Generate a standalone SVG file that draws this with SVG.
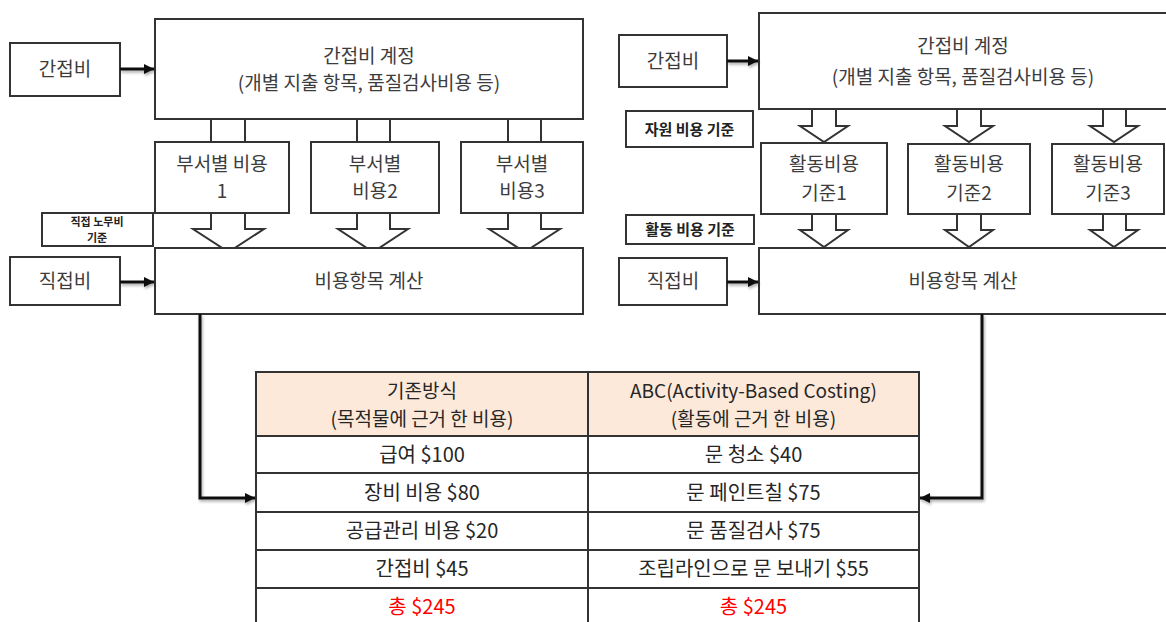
<svg xmlns="http://www.w3.org/2000/svg" width="1166" height="622" viewBox="0 0 1166 622">
<defs>
<marker id="ah" markerUnits="userSpaceOnUse" markerWidth="12" markerHeight="12" refX="10" refY="6" orient="auto">
<path d="M0,1 L10,6 L0,11 Z" fill="#111"/>
</marker>
<filter id="sh" x="-20%" y="-20%" width="140%" height="140%">
<feGaussianBlur in="SourceAlpha" stdDeviation="1.5"/>
<feOffset dx="1" dy="2"/>
<feComponentTransfer><feFuncA type="linear" slope="0.35"/></feComponentTransfer>
<feMerge><feMergeNode/><feMergeNode in="SourceGraphic"/></feMerge>
</filter>
</defs>
<style>
.box{fill:#fff;stroke:#333;stroke-width:2}
.bt{font-family:"Noto Sans CJK KR","Noto Sans",sans-serif;font-size:19px;fill:#3c3c3c;text-anchor:middle}
.lbl{font-family:"Noto Sans CJK KR","Noto Sans",sans-serif;font-size:15px;font-weight:bold;fill:#222;text-anchor:middle}
.blk{fill:#fff;stroke:#333;stroke-width:2;stroke-linejoin:miter}
.con{fill:none;stroke:#111;stroke-width:3}
.tc{fill:#fff;stroke:#333;stroke-width:2}
.th{fill:#fde9d9;stroke:#333;stroke-width:2}
.tt{font-family:"Noto Sans CJK KR","Noto Sans",sans-serif;font-size:20px;fill:#262626;text-anchor:middle}
.red{fill:#ff0000}
</style>

<!-- LEFT PANEL -->
<g id="left-pipes">
<rect class="blk" x="211" y="118" width="34" height="25"/>
<rect class="blk" x="357" y="118" width="33" height="25"/>
<rect class="blk" x="508" y="118" width="33" height="25"/>
</g>
<g id="left-arrows">
<polygon class="blk" points="211,212 245,212 245,229 264,229 228.5,252 193,229 211,229"/>
<polygon class="blk" points="357,212 390,212 390,229 408,229 373,252 338,229 357,229"/>
<polygon class="blk" points="508,212 541,212 541,229 560,229 524.5,252 489,229 508,229"/>
</g>
<g id="left-indirect">
<rect class="box" x="10" y="43" width="110" height="53"/>
<text class="bt" x="65" y="76">간접비</text>
</g>
<g id="left-account">
<rect class="box" x="155" y="19" width="428" height="100"/>
<text class="bt" x="369" y="63">간접비 계정</text>
<text class="bt" x="369" y="90">(개별 지출 항목, 품질검사비용 등)</text>
</g>
<g id="dept1">
<rect class="box" x="155" y="142" width="134" height="71"/>
<text class="bt" x="222" y="171">부서별 비용</text>
<text class="bt" x="222" y="198">1</text>
</g>
<g id="dept2">
<rect class="box" x="311" y="142" width="128" height="71"/>
<text class="bt" x="375" y="171">부서별</text>
<text class="bt" x="375" y="198">비용2</text>
</g>
<g id="dept3">
<rect class="box" x="461" y="142" width="122" height="71"/>
<text class="bt" x="522" y="171">부서별</text>
<text class="bt" x="522" y="198">비용3</text>
</g>
<g id="left-labor-basis">
<rect class="box" x="42" y="213" width="111" height="33"/>
<text class="lbl" x="97" y="226" style="font-size:11px">직접 노무비</text>
<text class="lbl" x="97" y="242" style="font-size:11px">기준</text>
</g>
<g id="left-calc">
<rect class="box" x="155" y="248" width="428" height="66"/>
<text class="bt" x="369" y="288">비용항목 계산</text>
</g>
<g id="left-direct">
<rect class="box" x="10" y="257" width="110" height="48"/>
<text class="bt" x="65" y="288">직접비</text>
</g>

<!-- RIGHT PANEL -->
<g id="right-arrows">
<polygon class="blk" points="812,108 836,108 836,126 848,126 824,142 800,126 812,126"/>
<polygon class="blk" points="957,108 981,108 981,126 993,126 969,142 945,126 957,126"/>
<polygon class="blk" points="1103,108 1126,108 1126,126 1138,126 1114,142 1090,126 1103,126"/>
<polygon class="blk" points="812,213 836,213 836,230 848,230 824,247 800,230 812,230"/>
<polygon class="blk" points="957,213 981,213 981,230 993,230 969,247 945,230 957,230"/>
<polygon class="blk" points="1103,213 1126,213 1126,230 1138,230 1114,247 1090,230 1103,230"/>
</g>
<g id="right-indirect">
<rect class="box" x="619" y="35" width="108" height="52"/>
<text class="bt" x="673" y="68">간접비</text>
</g>
<g id="right-account">
<rect class="box" x="759" y="13" width="412" height="96"/>
<text class="bt" x="963" y="53">간접비 계정</text>
<text class="bt" x="963" y="84">(개별 지출 항목, 품질검사비용 등)</text>
</g>
<g id="right-resource-basis">
<rect class="box" x="626" y="111" width="127" height="36"/>
<text class="lbl" x="689.5" y="134.5">자원 비용 기준</text>
</g>
<g id="act1">
<rect class="box" x="761" y="143" width="126" height="71"/>
<text class="bt" x="824" y="171">활동비용</text>
<text class="bt" x="824" y="200">기준1</text>
</g>
<g id="act2">
<rect class="box" x="908" y="144" width="122" height="70"/>
<text class="bt" x="969" y="171">활동비용</text>
<text class="bt" x="969" y="200">기준2</text>
</g>
<g id="act3">
<rect class="box" x="1052" y="144" width="112" height="70"/>
<text class="bt" x="1108" y="171">활동비용</text>
<text class="bt" x="1108" y="200">기준3</text>
</g>
<g id="right-activity-basis">
<rect class="box" x="626" y="215" width="128" height="29"/>
<text class="lbl" x="690" y="235">활동 비용 기준</text>
</g>
<g id="right-calc">
<rect class="box" x="759" y="248" width="412" height="66"/>
<text class="bt" x="963" y="288">비용항목 계산</text>
</g>
<g id="right-direct">
<rect class="box" x="619" y="258" width="108" height="47"/>
<text class="bt" x="673" y="288">직접비</text>
</g>

<!-- CONNECTORS -->
<g id="connectors" filter="url(#sh)">
<line class="con" x1="120" y1="69" x2="154" y2="69" marker-end="url(#ah)"/>
<line class="con" x1="120" y1="282" x2="154" y2="282" marker-end="url(#ah)"/>
<line class="con" x1="727" y1="61" x2="758" y2="61" marker-end="url(#ah)"/>
<line class="con" x1="727" y1="282" x2="758" y2="282" marker-end="url(#ah)"/>
<path class="con" d="M200,314 V498 H255" marker-end="url(#ah)"/>
<path class="con" d="M982,314 V498 H920" marker-end="url(#ah)"/>
</g>

<!-- TABLE -->
<g id="table">
<rect class="th" x="256" y="372" width="332" height="64"/>
<rect class="th" x="588" y="372" width="331" height="64"/>
<rect class="tc" x="256" y="436" width="332" height="37"/>
<rect class="tc" x="588" y="436" width="331" height="37"/>
<rect class="tc" x="256" y="473" width="332" height="39"/>
<rect class="tc" x="588" y="473" width="331" height="39"/>
<rect class="tc" x="256" y="512" width="332" height="38"/>
<rect class="tc" x="588" y="512" width="331" height="38"/>
<rect class="tc" x="256" y="550" width="332" height="38"/>
<rect class="tc" x="588" y="550" width="331" height="38"/>
<rect class="tc" x="256" y="588" width="332" height="40"/>
<rect class="tc" x="588" y="588" width="331" height="40"/>
<text class="tt" x="422" y="398" style="font-size:19px">기존방식</text>
<text class="tt" x="422" y="426" style="font-size:19px">(목적물에 근거 한 비용)</text>
<text class="tt" x="753.5" y="398" style="font-size:19px">ABC(Activity-Based Costing)</text>
<text class="tt" x="753.5" y="426" style="font-size:19px">(활동에 근거 한 비용)</text>
<text class="tt" x="422" y="462">급여 $100</text>
<text class="tt" x="753.5" y="462">문 청소 $40</text>
<text class="tt" x="422" y="500">장비 비용 $80</text>
<text class="tt" x="753.5" y="500">문 페인트칠 $75</text>
<text class="tt" x="422" y="538">공급관리 비용 $20</text>
<text class="tt" x="753.5" y="538">문 품질검사 $75</text>
<text class="tt" x="422" y="576">간접비 $45</text>
<text class="tt" x="753.5" y="576">조립라인으로 문 보내기 $55</text>
<text class="tt red" x="422" y="614">총 $245</text>
<text class="tt red" x="753.5" y="614">총 $245</text>
</g>
</svg>
